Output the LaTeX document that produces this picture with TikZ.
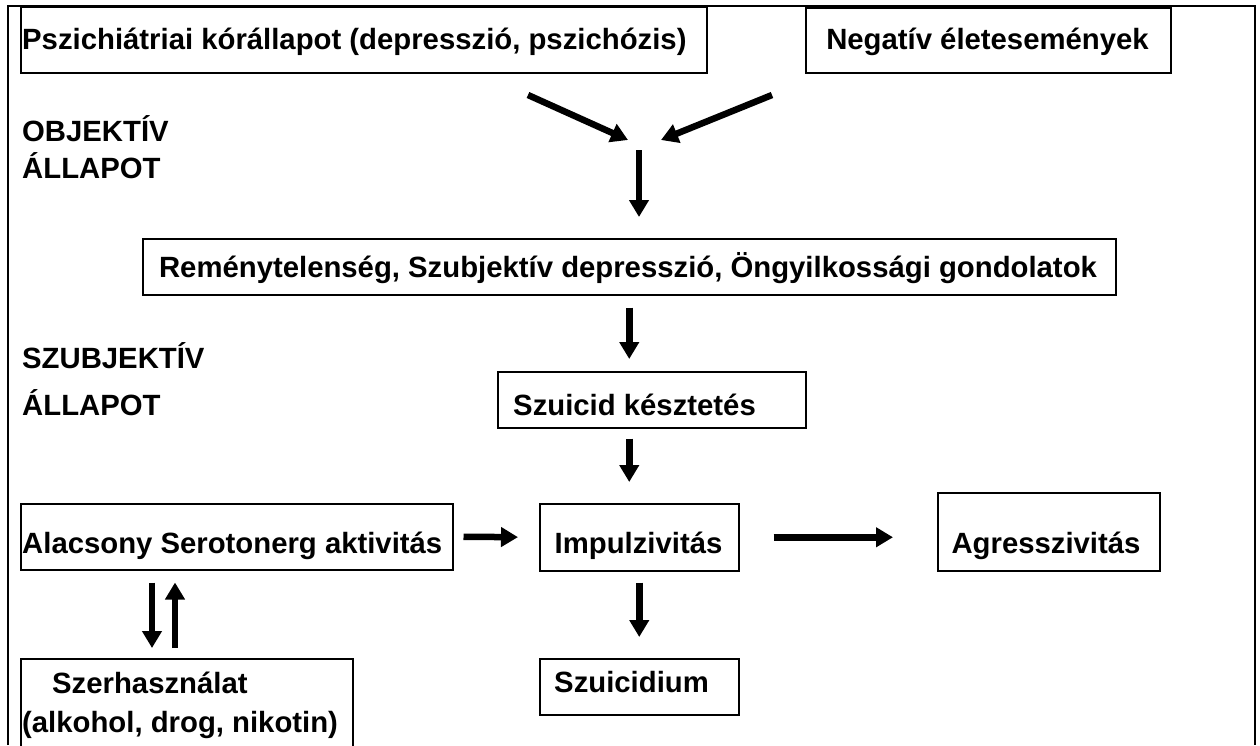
\documentclass[tikz,border=0pt]{standalone}
\usepackage{fontspec}
\setmainfont{Liberation Sans}
\usetikzlibrary{arrows.meta}
\begin{document}
\begin{tikzpicture}[x=1pt,y=-1pt,
  box/.style={draw, line width=1.5pt, inner sep=0pt, anchor=north west},
  lbl/.style={anchor=base west, inner sep=0pt, font=\fontsize{29.3}{34}\selectfont\bfseries},
  lblc/.style={lbl, anchor=base},
  arr/.style={line width=6.5pt, -{Triangle[width=19pt,length=17pt]}},
  frame/.style={line width=2.5pt}]
\useasboundingbox (0,0) rectangle (1260,745);
% outer frame (open at the bottom)
\draw[frame] (8,745) -- (8,6) -- (1255,6) -- (1255,745);
% boxes
\node[box, minimum width=686pt, minimum height=66pt] (b1) at (20,6) {};
\node[box, minimum width=365pt, minimum height=65pt] (b2) at (805,7) {};
\node[box, minimum width=973pt, minimum height=56pt] (b3) at (142,238) {};
\node[box, minimum width=308pt, minimum height=56pt] (b4) at (497,371) {};
\node[box, minimum width=199pt, minimum height=67pt] (b5) at (539,503) {};
\node[box, minimum width=432pt, minimum height=66pt] (b6) at (20,503) {};
\node[box, minimum width=222pt, minimum height=78pt] (b7) at (937,492) {};
\node[box, minimum width=199pt, minimum height=56pt] (b8) at (539,658) {};
\node[box, minimum width=332pt, minimum height=96pt] (b9) at (20,658) {};
% texts
\node[lbl] (t1) at (22,49) {Pszichiátriai kórállapot (depresszió, pszichózis)};
\node[lblc] (t2) at (987.5,49) {Negatív életesemények};
\node[lbl] (t3) at (22,141) {OBJEKTÍV};
\node[lbl] (t4) at (22,178) {ÁLLAPOT};
\node[lblc] (t5) at (628,277) {Reménytelenség, Szubjektív depresszió, Öngyilkossági gondolatok};
\node[lbl] (t6) at (22,368) {SZUBJEKTÍV};
\node[lbl] (t7) at (22,415) {ÁLLAPOT};
\node[lbl] (t8) at (513,415) {Szuicid késztetés};
\node[lbl] (t9) at (22,553) {Alacsony Serotonerg aktivitás};
\node[lblc] (t10) at (638.5,553) {Impulzivitás};
\node[lblc] (t11) at (1046,553) {Agresszivitás};
\node[lbl] (t12) at (554,692) {Szuicidium};
\node[lbl] (t13) at (52,693) {Szerhasználat};
\node[lbl] (t14) at (22,732) {(alkohol, drog, nikotin)};
% top converging arrows
\coordinate (a1s) at (528,95);
\coordinate (a1e) at (628,140);
\coordinate (a2s) at (772,95);
\coordinate (a2e) at (661,140);
\coordinate (a3s) at (639,150);
\draw[arr] (a1s) -- (a1e);
\draw[arr] (a2s) -- (a2e);
\draw[arr, shorten >=21pt] (a3s) -- (a3s |- b3.north);
% flow arrows
\draw[arr, shorten <=12pt, shorten >=12pt] (b3.south) -- (b3.south |- b4.north);
\draw[arr, shorten <=10pt, shorten >=21pt] (b3.south |- b4.south) -- (b3.south |- b5.north);
\draw[arr, shorten <=10pt, shorten >=21pt] (b6.east) -- (b5.west);
\draw[arr, shorten <=34pt, shorten >=44pt] (b5.east) -- (b5.east -| b7.west);
\draw[arr, shorten <=11pt, shorten >=21pt] (b5.south) -- (b8.north);
\draw[arr, shorten <=12pt, shorten >=10pt] ([xshift=132pt]b6.south west) -- ([xshift=132pt]b9.north west);
\draw[arr, shorten <=10pt, shorten >=12pt] ([xshift=155pt]b9.north west) -- ([xshift=155pt]b6.south west);
\end{tikzpicture}
\end{document}
